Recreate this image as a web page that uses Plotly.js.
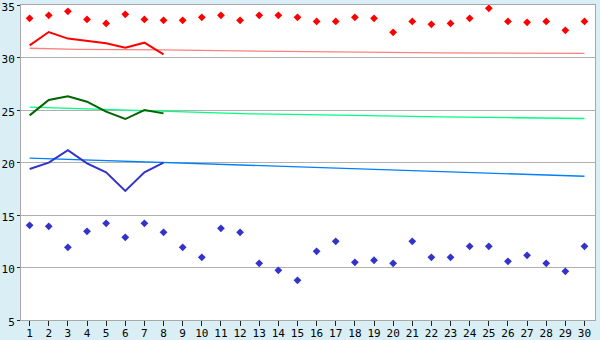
<!DOCTYPE html>
<html>
<head>
<meta charset="utf-8">
<script src="https://cdn.plot.ly/plotly-3.0.1.min.js"></script>
<style>html,body{margin:0;padding:0;background:#DAEEF5;}#chart{width:600px;height:340px;}</style>
</head>
<body>
<div id="chart"></div>
<script>
var days = [1,2,3,4,5,6,7,8,9,10,11,12,13,14,15,16,17,18,19,20,21,22,23,24,25,26,27,28,29,30];
var redPoints = [33.73,34.02,34.4,33.63,33.25,34.11,33.63,33.54,33.54,33.83,34.02,33.54,34.02,34.02,33.83,33.44,33.44,33.83,33.73,32.4,33.44,33.16,33.25,33.73,34.68,33.44,33.35,33.44,32.59,33.44];
var bluePoints = [14.02,13.92,11.92,13.45,14.21,12.87,14.21,13.35,11.92,10.97,13.73,13.35,10.4,9.73,8.78,11.54,12.49,10.49,10.69,10.4,12.49,10.97,10.97,12.02,12.02,10.59,11.16,10.4,9.64,12.02];
var lineDays = [1,2,3,4,5,6,7,8];
var redLine = [31.16,32.43,31.8,31.54,31.35,30.93,31.41,30.3];
var greenLine = [24.49,25.95,26.3,25.79,24.84,24.14,25.0,24.68];
var blueLine = [19.38,19.98,21.17,19.92,19.06,17.29,19.06,19.98];
var redTrendX = [1,3.5,8,10.5,15.5,22.5,30];
var redTrendY = [30.88,30.78,30.72,30.66,30.55,30.45,30.39];
var greenTrendX = [1,4,7,10.55,12.53,15.5,18.53,22.54,26.5,30];
var greenTrendY = [25.28,25.1,24.93,24.74,24.64,24.55,24.45,24.35,24.26,24.19];
var blueTrendX = [1,30];
var blueTrendY = [20.42,18.69];
var yTicks = [5,10,15,20,25,30,35];

var traces = [
  {x: redTrendX, y: redTrendY, mode: 'lines', line: {color: '#FF8080', width: 1.3}},
  {x: greenTrendX, y: greenTrendY, mode: 'lines', line: {color: '#00FF80', width: 1.3}},
  {x: blueTrendX, y: blueTrendY, mode: 'lines', line: {color: '#0080FF', width: 1.3}},
  {x: lineDays, y: redLine, mode: 'lines', line: {color: '#FF0000', width: 2}},
  {x: lineDays, y: greenLine, mode: 'lines', line: {color: '#006400', width: 2}},
  {x: lineDays, y: blueLine, mode: 'lines', line: {color: '#3333CC', width: 2}},
  {x: days, y: redPoints, mode: 'markers', marker: {symbol: 'diamond', size: 6, color: '#FF0000'}},
  {x: days, y: bluePoints, mode: 'markers', marker: {symbol: 'diamond', size: 6, color: '#3333CC'}}
];

var layout = {
  width: 600, height: 340,
  margin: {l: 21, r: 5, t: 5, b: 20, pad: 0},
  paper_bgcolor: '#DAEEF5',
  plot_bgcolor: '#FFFFFF',
  showlegend: false,
  xaxis: {
    range: [0.55, 30.55], tickvals: days, ticktext: days.map(String),
    ticks: 'outside', ticklen: 5, tickcolor: '#222', tickwidth: 1,
    ticklabeloverflow: 'allow', ticklabelstandoff: -2,
    showgrid: false, zeroline: false, showline: true, linecolor: '#A8A8A8', linewidth: 1, mirror: true,
    tickfont: {family: 'DejaVu Sans Mono', size: 11, color: '#000'}
  },
  yaxis: {
    range: [5, 35], tickvals: yTicks, ticktext: yTicks.map(String),
    ticks: 'outside', ticklen: 3, tickcolor: '#222', tickwidth: 1,
    ticklabeloverflow: 'allow', ticklabelshift: 2,
    showgrid: true, gridcolor: '#B0B0B0', gridwidth: 1,
    zeroline: false, showline: true, linecolor: '#A8A8A8', linewidth: 1, mirror: true,
    tickfont: {family: 'DejaVu Sans Mono', size: 11, color: '#000'}
  }
};

Plotly.newPlot('chart', traces, layout, {displayModeBar: false, staticPlot: true});
</script>
</body>
</html>
